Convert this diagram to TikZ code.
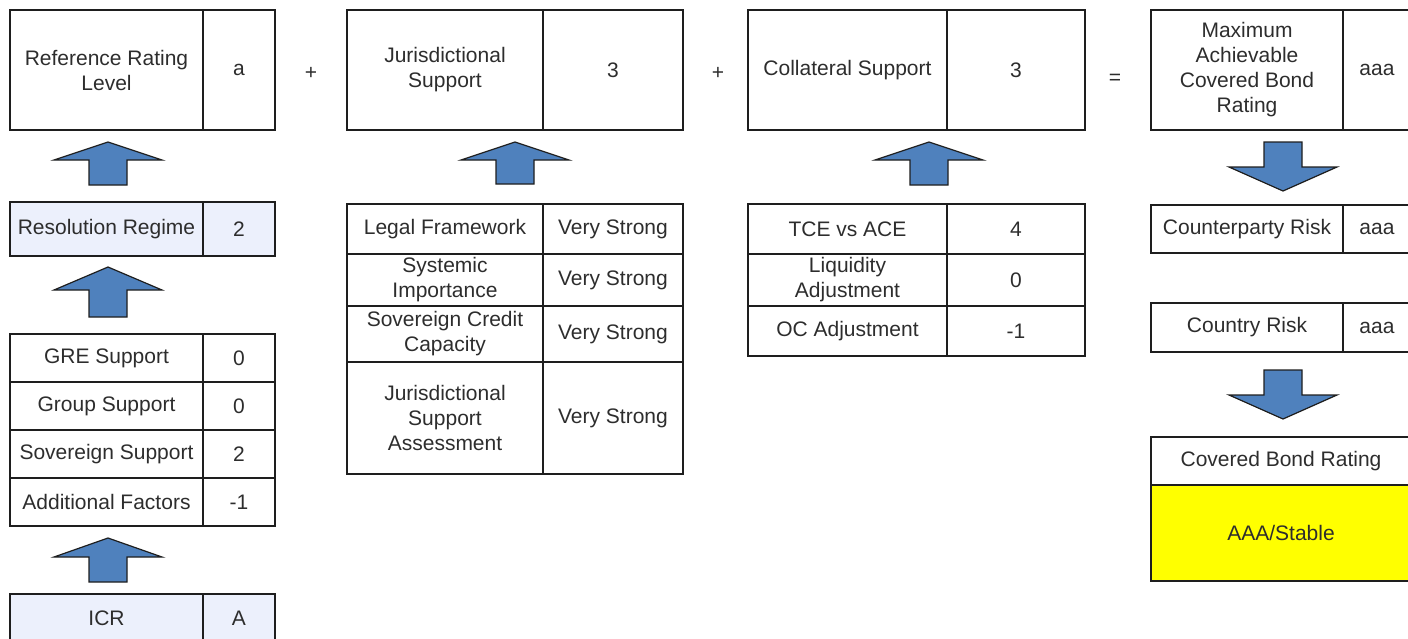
\documentclass[tikz,border=0pt]{standalone}
\usepackage{fontspec}
\setmainfont{Liberation Sans}
\usepackage{tikz}

\definecolor{arrowblue}{RGB}{79,129,189}
\definecolor{lightfill}{RGB}{236,240,252}
\definecolor{ratingyellow}{RGB}{255,255,0}
\definecolor{textgray}{RGB}{45,45,45}
\definecolor{linegray}{RGB}{30,30,30}

\newcommand{\cellfont}{\fontsize{21}{25}\selectfont}
% block arrow: centre x, tip y, head base y, tail y
\newcommand{\blockarr}[4]{%
  \draw[blockarrow] (#1,#2) -- ({#1+54},#3) -- ({#1+19},#3) -- ({#1+19},#4)
    -- ({#1-19},#4) -- ({#1-19},#3) -- ({#1-54},#3) -- cycle;}

\tikzset{
  cell/.style={draw=linegray, line width=1.6pt, anchor=north west, outer sep=0pt,
    inner sep=2pt, align=center, text=textgray, font=\cellfont},
  shaded/.style={fill=lightfill},
  op/.style={text=textgray, font=\cellfont, inner sep=0pt},
  blockarrow/.style={fill=arrowblue, draw=linegray, line width=1.2pt, line join=miter},
}

\begin{document}
\begin{tikzpicture}[x=1pt, y=-1pt]
    \useasboundingbox (0,0) rectangle (1408,638);
    \clip (0,0) rectangle (1408,638);

    % reference rating level column
    \node[cell, minimum width=193pt, minimum height=120pt] (rrl) at (10,10) {Reference Rating\\Level};
    \node[cell, minimum width=72pt, minimum height=120pt] (rrlv) at (rrl.north east) {a};
    \node[cell, shaded, minimum width=193pt, minimum height=54pt] (res) at (10,202) {Resolution Regime};
    \node[cell, shaded, minimum width=72pt, minimum height=54pt] (resv) at (res.north east) {2};
    \node[cell, minimum width=193pt, minimum height=48pt] (gre) at (10,334) {GRE Support};
    \node[cell, minimum width=72pt, minimum height=48pt] (grev) at (gre.north east) {0};
    \node[cell, minimum width=193pt, minimum height=48pt] (grp) at (gre.south west) {Group Support};
    \node[cell, minimum width=72pt, minimum height=48pt] (grpv) at (grp.north east) {0};
    \node[cell, minimum width=193pt, minimum height=48pt] (sov) at (grp.south west) {Sovereign Support};
    \node[cell, minimum width=72pt, minimum height=48pt] (sovv) at (sov.north east) {2};
    \node[cell, minimum width=193pt, minimum height=48pt] (add) at (sov.south west) {Additional Factors};
    \node[cell, minimum width=72pt, minimum height=48pt] (addv) at (add.north east) {-1};
    \node[cell, shaded, minimum width=193pt, minimum height=48pt] (icr) at (10,594) {ICR};
    \node[cell, shaded, minimum width=72pt, minimum height=48pt] (icrv) at (icr.north east) {A};

    % jurisdictional support column
    \node[cell, minimum width=196pt, minimum height=120pt] (jur) at (347,10) {Jurisdictional\\Support};
    \node[cell, minimum width=140pt, minimum height=120pt] (jurv) at (jur.north east) {3};
    \node[cell, minimum width=196pt, minimum height=50pt] (leg) at (347,204) {Legal Framework};
    \node[cell, minimum width=140pt, minimum height=50pt] (legv) at (leg.north east) {Very Strong};
    \node[cell, minimum width=196pt, minimum height=52pt] (sys) at (leg.south west) {Systemic\\Importance};
    \node[cell, minimum width=140pt, minimum height=52pt] (sysv) at (sys.north east) {Very Strong};
    \node[cell, minimum width=196pt, minimum height=56pt] (scc) at (sys.south west) {Sovereign Credit\\Capacity};
    \node[cell, minimum width=140pt, minimum height=56pt] (sccv) at (scc.north east) {Very Strong};
    \node[cell, minimum width=196pt, minimum height=112pt] (jsa) at (scc.south west) {Jurisdictional\\Support\\Assessment};
    \node[cell, minimum width=140pt, minimum height=112pt] (jsav) at (jsa.north east) {Very Strong};

    % collateral support column
    \node[cell, minimum width=199pt, minimum height=120pt] (col) at (748,10) {Collateral Support};
    \node[cell, minimum width=138pt, minimum height=120pt] (colv) at (col.north east) {3};
    \node[cell, minimum width=199pt, minimum height=50pt] (tce) at (748,204) {TCE vs ACE};
    \node[cell, minimum width=138pt, minimum height=50pt] (tcev) at (tce.north east) {4};
    \node[cell, minimum width=199pt, minimum height=52pt] (liq) at (tce.south west) {Liquidity\\Adjustment};
    \node[cell, minimum width=138pt, minimum height=52pt] (liqv) at (liq.north east) {0};
    \node[cell, minimum width=199pt, minimum height=50pt] (oca) at (liq.south west) {OC Adjustment};
    \node[cell, minimum width=138pt, minimum height=50pt] (ocav) at (oca.north east) {-1};

    % covered bond rating column
    \node[cell, minimum width=192pt, minimum height=120pt] (mac) at (1151,10) {Maximum\\Achievable\\Covered Bond\\Rating};
    \node[cell, minimum width=68pt, minimum height=120pt] (macv) at (mac.north east) {aaa};
    \node[cell, minimum width=192pt, minimum height=48pt] (cpr) at (1151,205) {Counterparty Risk};
    \node[cell, minimum width=68pt, minimum height=48pt] (cprv) at (cpr.north east) {aaa};
    \node[cell, minimum width=192pt, minimum height=49pt] (ctr) at (1151,303) {Country Risk};
    \node[cell, minimum width=68pt, minimum height=49pt] (ctrv) at (ctr.north east) {aaa};
    \node[cell, minimum width=260pt, minimum height=48pt] (cbr) at (1151,437) {Covered Bond Rating};
    \node[cell, fill=ratingyellow, minimum width=260pt, minimum height=96pt] (cbrv) at (cbr.south west) {AAA/Stable};

    % operators
    \node[op] (plus1) at (311,73) {+};
    \node[op] (plus2) at (718,73) {+};
    \node[op] (eq) at (1115,79) {=};

    % block arrows
    \blockarr{108}{142}{160}{185}
    \blockarr{108}{267}{290}{317}
    \blockarr{108}{538}{557}{582}
    \blockarr{515}{142}{160}{184}
    \blockarr{929}{142}{160}{185}
    \blockarr{1283}{191}{167}{142}
    \blockarr{1283}{419}{395}{370}
  \end{tikzpicture}
\end{document}
